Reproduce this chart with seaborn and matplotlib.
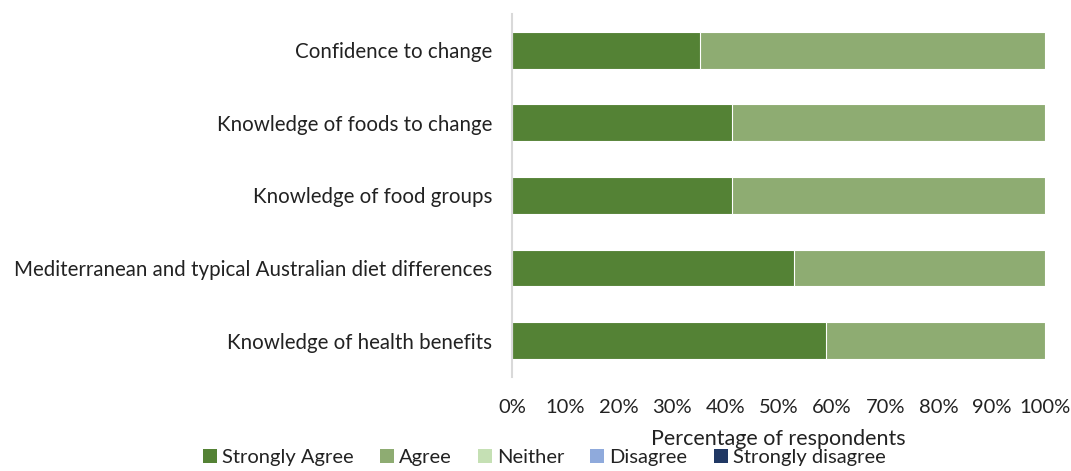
import matplotlib
matplotlib.use("Agg")
import matplotlib.pyplot as plt
from matplotlib.patches import Patch
import numpy as np
import pandas as pd
import seaborn as sns

# Survey items (top to bottom) and response shares in percent
items = [
    "Confidence to change",
    "Knowledge of foods to change",
    "Knowledge of food groups",
    "Mediterranean and typical Australian diet differences",
    "Knowledge of health benefits",
]
strongly_agree = [35.3, 41.2, 41.2, 52.9, 58.8]
agree = [64.7, 58.8, 58.8, 47.1, 41.2]
neither = [0, 0, 0, 0, 0]
disagree = [0, 0, 0, 0, 0]
strongly_disagree = [0, 0, 0, 0, 0]

responses = ["Strongly Agree", "Agree", "Neither", "Disagree", "Strongly disagree"]
colors = ["#548235", "#8EAC72", "#C5E0B4", "#8FAADC", "#203864"]
tick_vals = np.arange(0, 101, 10)

sns.set_theme(style="white")
plt.rcParams["font.family"] = ["Lato", "DejaVu Sans"]

df = pd.DataFrame({
    "item": items,
    "Strongly Agree": strongly_agree,
    "Agree": agree,
    "Neither": neither,
    "Disagree": disagree,
    "Strongly disagree": strongly_disagree,
})

fig = plt.figure(figsize=(10.71, 4.71), dpi=100)
ax = fig.add_axes([0.478, 0.20, 0.498, 0.77])

# Stacked bars: draw cumulative totals from the outermost segment inward
cum = df[responses].cumsum(axis=1)
for resp, col in reversed(list(zip(responses, colors))):
    sub = pd.DataFrame({"item": items, "value": cum[resp]})
    sns.barplot(data=sub, y="item", x="value", color=col, orient="h",
                width=0.51, ax=ax, edgecolor="white", linewidth=0.8,
                saturation=1)

ax.set_xlim(0, 100)
ax.set_ylim(4.5, -0.5)
ax.set_xticks(tick_vals)
ax.set_xticklabels([f"{v}%" for v in tick_vals], fontsize=14.5, color="#222222")
ax.tick_params(axis="x", length=0, pad=16)
ax.tick_params(axis="y", length=0, pad=14, labelsize=14.8, labelcolor="#222222")
ax.set_ylabel("")
ax.set_xlabel("Percentage of respondents", fontsize=15.5, color="#222222", labelpad=9)

for s in ["top", "right", "bottom"]:
    ax.spines[s].set_visible(False)
ax.spines["left"].set_color("#D9D9D9")
ax.spines["left"].set_linewidth(1.5)

handles = [Patch(facecolor=c, edgecolor="none") for c in colors]
fig.legend(handles, responses, loc="lower center", bbox_to_anchor=(0.508, -0.028),
           ncol=5, frameon=False, fontsize=14.5, handlelength=0.7,
           handleheight=0.7, handletextpad=0.25, columnspacing=1.3,
           labelcolor="#222222")

fig.savefig("out.png", dpi=100)
